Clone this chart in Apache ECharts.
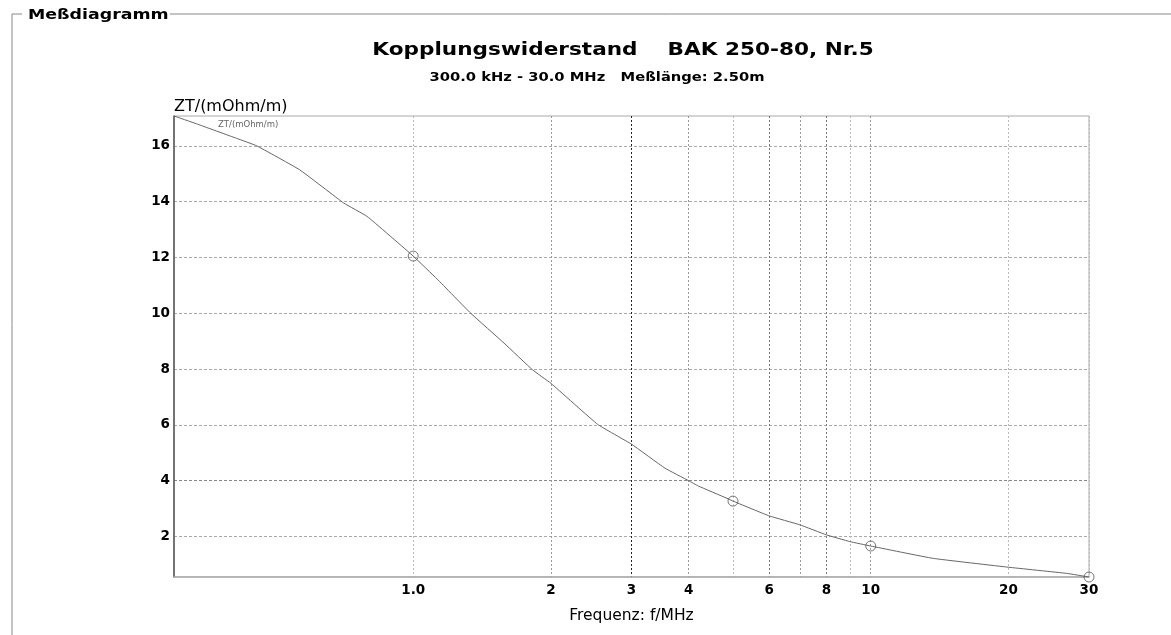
<!DOCTYPE html>
<html>
<head>
<meta charset="utf-8">
<script src="https://cdn.jsdelivr.net/npm/echarts@6/dist/echarts.min.js"></script>
<style>html,body{margin:0;padding:0;background:#fff;}#c{width:1171px;height:635px;}</style>
</head>
<body>
<div id="c"></div>
<script>
// Frequency (MHz) and coupling impedance ZT (mOhm/m)
var freqMHz = [0.3, 0.336, 0.411, 0.455, 0.565, 0.705, 0.793, 1.0, 1.129, 1.336, 1.58, 1.824, 2.0, 2.53, 3.0, 3.55, 4.0, 4.2, 4.85, 5.0, 6.0, 7.0, 8.0, 9.0, 10.0, 13.66, 20.0, 26.8, 30.0];
var ztValues = [17.07, 16.79, 16.27, 16.0, 15.14, 13.95, 13.47, 12.05, 11.22, 10.0, 8.93, 7.97, 7.49, 6.02, 5.31, 4.45, 4.0, 3.81, 3.37, 3.27, 2.74, 2.42, 2.06, 1.82, 1.66, 1.22, 0.9, 0.68, 0.55];
var markerFreq = [1.0, 5.0, 10.0, 30.0];
var markerZt = [12.05, 3.27, 1.66, 0.55];
var xGridFreq = [1, 2, 3, 4, 5, 6, 7, 8, 9, 10, 20, 30];
var xLabelFreq = [1, 2, 3, 4, 6, 8, 10, 20, 30];
var yTicks = [2, 4, 6, 8, 10, 12, 14, 16];
var xMin = 0.3, xMax = 30, yMin = 0.55, yMax = 17.07;

var lg = function (f) { return Math.log10(f); };
var lineData = freqMHz.map(function (f, i) { return [lg(f), ztValues[i]]; });
var markData = markerFreq.map(function (f, i) { return [lg(f), markerZt[i]]; });
var xGridColors = ['#bbb', '#999', '#222', '#999', '#bbb', '#777', '#999', '#777', '#bbb', '#999', '#bbb', '#bbb'];

var chart = echarts.init(document.getElementById('c'));
chart.setOption({
  backgroundColor: '#fff',
  animation: false,
  legend: {
    data: ['ZT/(mOhm/m)'], left: 213, top: 118, icon: 'none', itemWidth: 0, itemGap: 0, padding: 0,
    textStyle: { fontFamily: 'DejaVu Sans', fontSize: 8.5, color: '#666', padding: 0 }
  },
  graphic: [
    { type: 'line', shape: { x1: 12, y1: 14, x2: 12, y2: 635 }, style: { stroke: '#888', lineWidth: 1 } },
    { type: 'line', shape: { x1: 12, y1: 14, x2: 22, y2: 14 }, style: { stroke: '#888', lineWidth: 1 } },
    { type: 'line', shape: { x1: 170, y1: 14, x2: 1171, y2: 14 }, style: { stroke: '#888', lineWidth: 1 } },
    { type: 'text', x: 28, y: 15, scaleX: 1.27, style: { text: 'Meßdiagramm', font: 'bold 13.7px "DejaVu Sans"', fill: '#000', textAlign: 'left', textVerticalAlign: 'middle' } },
    { type: 'text', x: 623, y: 51, scaleX: 1.27, style: { text: 'Kopplungswiderstand    BAK 250-80, Nr.5', font: 'bold 17px "DejaVu Sans"', fill: '#000', textAlign: 'center', textVerticalAlign: 'middle' } },
    { type: 'text', x: 597, y: 78, scaleX: 1.26, style: { text: '300.0 kHz - 30.0 MHz   Meßlänge: 2.50m', font: 'bold 11.7px "DejaVu Sans"', fill: '#000', textAlign: 'center', textVerticalAlign: 'middle' } }
  ],
  grid: { left: 174, right: 82, top: 116, bottom: 58, show: true, borderColor: '#aaa', borderWidth: 1, containLabel: false },
  xAxis: {
    type: 'value', min: lg(xMin), max: lg(xMax),
    name: 'Frequenz: f/MHz', nameLocation: 'middle', nameGap: 31,
    nameTextStyle: { fontFamily: 'DejaVu Sans', fontSize: 15.5, color: '#000' },
    axisLine: { onZero: false, lineStyle: { color: '#aaa', width: 1.5 } },
    axisTick: { show: false, customValues: xGridFreq.map(lg) },
    axisLabel: {
      customValues: xLabelFreq.map(lg), margin: 6,
      fontFamily: 'DejaVu Sans', fontSize: 13.5, fontWeight: 'bold', color: '#000',
      formatter: function (v) { var f = Math.pow(10, v); return Math.abs(f - 1) < 1e-6 ? '1.0' : String(Math.round(f)); }
    },
    splitLine: { show: true, lineStyle: { color: xGridColors, type: [2, 2], width: 1 } }
  },
  yAxis: {
    type: 'value', min: yMin, max: yMax,
    name: 'ZT/(mOhm/m)', nameLocation: 'end', nameGap: 1,
    nameTextStyle: { fontFamily: 'DejaVu Sans', fontSize: 16, color: '#000', align: 'left' },
    axisLine: { show: true, onZero: false, lineStyle: { color: '#555', width: 1.5 } },
    axisTick: { show: false, customValues: yTicks },
    axisLabel: {
      customValues: yTicks, margin: 4,
      fontFamily: 'DejaVu Sans', fontSize: 13.5, fontWeight: 'bold', color: '#000'
    },
    splitLine: { show: true, lineStyle: { color: ['#aaa', '#888', '#aaa', '#aaa', '#aaa', '#aaa', '#aaa', '#aaa'], type: [3, 2], width: 1 } }
  },
  series: [{
    name: 'ZT/(mOhm/m)', type: 'line', data: lineData, showSymbol: false, smooth: 0.1,
    lineStyle: { color: '#666', width: 1 }, itemStyle: { color: '#666' }, z: 3
  }, {
    type: 'scatter', data: markData, symbol: 'circle', symbolSize: 10,
    itemStyle: { color: 'rgba(255,255,255,0)', borderColor: '#555', borderWidth: 1 }, z: 4
  }]
});
</script>
</body>
</html>
